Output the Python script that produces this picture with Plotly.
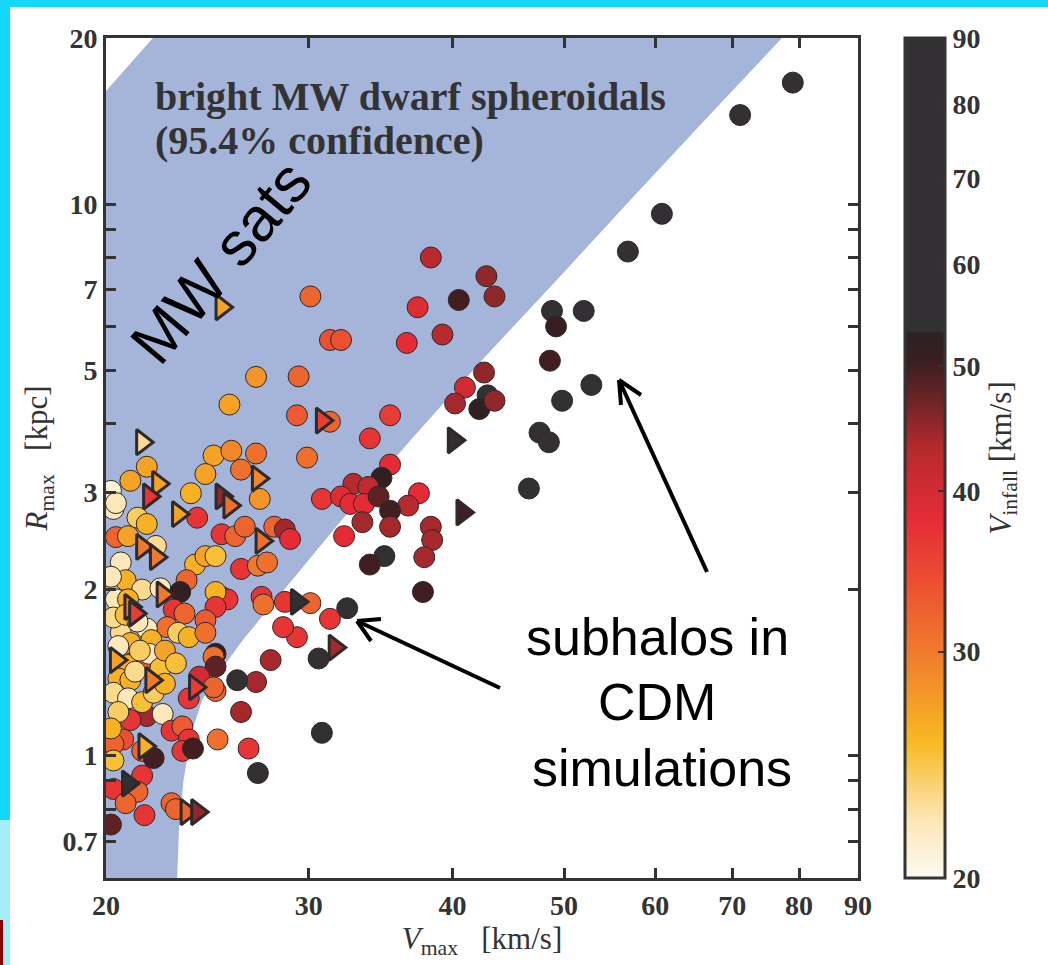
import numpy as np
import plotly.graph_objects as go

# ---------------- data ----------------
# subhalos drawn as circles: Vmax [km/s], Rmax [kpc], Vinfall [km/s]
circ_vmax = [79.0, 71.1, 60.8, 56.8, 52.8, 49.8, 48.8, 52.0, 49.2, 48.6, 47.6, 48.5, 46.6,
             38.3, 42.8, 40.5, 43.5, 37.3, 39.2, 36.5, 42.6, 41.0, 40.2, 42.9, 42.2, 43.5,
             37.4, 36.6, 38.3,
             29.3, 31.3, 35.3, 33.9, 29.9, 35.3, 34.7, 32.8, 33.8, 30.8, 32.0, 32.6, 33.5,
             34.5, 35.3, 33.4, 35.3, 32.2, 38.4, 37.8, 34.9, 33.9, 37.7, 30.1, 32.4, 31.3,
             29.3, 30.6, 28.5, 30.8,
             27.0, 26.0, 24.9, 23.6, 26.2, 21.7, 21.0, 22.4, 22.8, 23.3, 25.0, 26.6, 23.6,
             23.3, 23.8, 21.5, 22.0, 20.7, 20.3, 20.3, 27.1, 21.5, 21.3, 20.3, 20.8, 21.6,
             22.8, 23.0, 20.2,
             20.3, 21.3, 21.7, 24.0, 23.7, 20.4, 20.9, 22.1, 25.2, 25.9, 26.4, 28.0, 28.6,
             28.9, 20.6, 23.9, 24.4, 24.9, 26.2, 27.1, 27.6, 20.8, 20.2, 23.5, 21.5, 22.3,
             23.2, 20.4, 20.9, 22.9, 23.4, 25.2, 25.5, 24.9, 27.3, 27.4, 28.6, 24.9, 24.4,
             22.6, 23.1, 23.6, 24.4, 20.6, 21.0, 21.7, 21.9, 21.5, 21.8, 20.9, 24.9, 24.8,
             24.9, 27.8, 24.1, 24.8, 20.5, 21.0,
             30.1, 31.3, 32.0, 27.0, 29.4, 25.6, 24.8, 25.7, 27.0, 21.7, 21.0, 24.4, 26.2,
             27.2, 20.2, 20.4,
             20.3, 20.8, 21.3, 20.5, 21.4, 20.3, 20.9, 21.5, 22.0, 20.5, 21.2, 22.3, 22.5,
             20.2, 22.5, 23.0]
circ_rmax = [16.6, 14.5, 9.6, 8.2, 4.7, 4.4, 6.4, 6.4, 6.0, 5.2, 3.85, 3.7, 3.05,
             8.0, 7.4, 6.7, 6.8, 6.5, 5.8, 5.6, 4.95, 4.65, 4.35, 4.5, 4.25, 4.4,
             2.99, 2.84, 2.6,
             4.14, 4.03, 4.14, 3.76, 3.47, 3.37, 3.19, 3.11, 3.07, 2.92, 2.95, 2.86, 2.86,
             2.95, 2.78, 2.65, 2.6, 2.5, 2.46, 2.29, 2.30, 2.22, 1.98, 1.89, 1.85, 1.77,
             1.64, 1.50, 1.71, 1.10,
             1.36, 1.37, 1.31, 1.27, 1.20, 1.18, 1.16, 1.19, 1.11, 1.13, 1.07, 1.03, 1.07,
             1.02, 1.03, 1.02, 0.99, 1.07, 1.05, 0.98, 0.93, 0.92, 0.86, 0.87, 0.82, 0.78,
             0.82, 0.80, 0.75,
             2.8, 2.7, 2.63, 2.7, 2.99, 2.49, 2.50, 2.4, 2.52, 2.50, 2.60, 2.6, 2.57,
             2.47, 2.24, 2.22, 2.30, 2.30, 2.18, 2.21, 2.24, 2.08, 2.11, 2.08, 2.0, 2.01,
             1.98, 1.92, 1.92, 1.84, 1.81, 1.94, 1.92, 1.98, 1.94, 1.88, 1.90, 1.86, 1.76,
             1.71, 1.67, 1.64, 1.67, 1.67, 1.60, 1.70, 1.62, 1.49, 1.53, 1.46, 1.53, 1.51,
             1.45, 1.49, 1.39, 1.33, 1.38, 1.37,
             6.8, 5.67, 5.67, 4.86, 4.87, 4.33, 3.5, 3.57, 3.53, 3.34, 3.15, 3.24, 3.3,
             2.92, 3.02, 2.87,
             1.78, 1.80, 1.75, 1.58, 1.55, 1.30, 1.27, 1.25, 1.30, 1.20, 1.42, 1.44, 1.35,
             1.12, 1.55, 1.47]
circ_vinf = [80, 75, 70, 65, 60, 62, 60, 58, 51, 50, 60, 58, 60,
             43, 45, 50, 45, 39, 43, 38, 45, 40, 44, 60, 52, 45,
             38, 43, 44,
             33, 32, 36, 37, 31, 38, 52, 43, 42, 37, 39, 38, 38,
             48, 50, 44, 44, 38, 44, 44, 60, 50, 50, 32, 60, 37,
             37, 60, 37, 60,
             44, 55, 32, 37, 44, 44, 37, 22, 37, 33, 31, 37, 37,
             37, 50, 32, 50, 34, 32, 25, 60, 37, 32, 37, 32, 37,
             32, 32, 48,
             22, 24, 26, 37, 26, 32, 27, 23, 37, 32, 32, 32, 44,
             38, 22, 26, 27, 25, 37, 30, 31, 26, 22, 32, 23, 22,
             52, 22, 26, 37, 32, 37, 37, 26, 37, 31, 37, 37, 33,
             31, 24, 26, 31, 23, 26, 22, 26, 33, 22, 26, 52, 31,
             48, 44, 40, 32, 26, 26,
             32, 34, 34, 28, 32, 27, 27, 29, 31, 27, 27, 27, 31,
             28, 21, 22,
             23, 25, 22, 22, 24, 23, 22, 25, 24, 24, 23, 25, 26,
             26, 27, 25]

# subhalos drawn as triangles
tri_vmax = [25.2, 30.8, 21.5, 22.2, 27.1, 25.2, 25.6, 21.8, 23.1, 21.5, 22.1, 27.3, 22.4,
            21.0, 21.2, 20.4, 21.9, 23.9, 21.6, 20.9, 23.5, 24.0, 29.3, 31.6, 40.1, 40.8]
tri_rmax = [6.5, 4.05, 3.7, 3.11, 3.18, 2.95, 2.84, 2.95, 2.74, 2.39, 2.29, 2.45, 1.96,
            1.86, 1.81, 1.49, 1.37, 1.33, 1.04, 0.89, 0.79, 0.79, 1.9, 1.57, 3.73, 2.76]
tri_vinf = [27, 36, 23, 27, 29, 45, 31, 37, 27, 30, 30, 31, 30,
            30, 36, 27, 30, 36, 26, 60, 32, 45, 60, 44, 60, 50]

# 95.4% confidence band of bright MW dwarf spheroidals
band_left_vmax = [19.0, 22.1, 23.0]
band_left_rmax = [14.2, 20.3, 22.3]
band_right_vmax = [83.5, 77.6, 66.7, 57.4, 49.5, 42.6, 36.9, 32.1, 28.1, 26.3, 24.8, 24.24,
                   23.72, 23.35, 23.14, 23.06, 23.06]
band_right_rmax = [23.9, 20.17, 14.41, 10.30, 7.36, 5.26, 3.76, 2.685, 1.918, 1.621, 1.370,
                   1.26, 1.097, 0.900, 0.730, 0.599, 0.5]
band_bottom_vmax = [19.0]
band_bottom_rmax = [0.5]

x_ticks = [20, 30, 40, 50, 60, 70, 80, 90]
x_ticktext = ["20", "30", "40", "50", "60", "70", "80", "90"]
y_ticks = [0.7, 1, 2, 3, 5, 7, 10, 20]
y_ticktext = ["0.7", "1", "2", "3", "5", "7", "10", "20"]
y_minor_ticks = [0.8, 0.9, 4, 6, 8, 9]
cb_ticks = [20, 30, 40, 50, 60, 70, 80, 90]
cb_ticktext = ["20", "30", "40", "50", "60", "70", "80", "90"]

# ---------------- layout helpers ----------------
W, H = 1048, 965
ML, MR, MT, MB = 106, 190, 38, 87
PW, PH = W - ML - MR, H - MT - MB


def px(x):
    return (x - ML) / PW


def py(y):
    return (H - MB - y) / PH


vmin_c, vmax_c = np.log10(20), np.log10(90)


def f(v):
    return (np.log10(v) - vmin_c) / (vmax_c - vmin_c)


colorscale = [
    [0.0, "#fdfaf3"],
    [0.07, "#fce6b4"],
    [f(25.5), "#f8b923"],
    [f(30), "#f07a2c"],
    [f(34), "#ec4f31"],
    [f(38), "#e52c36"],
    [f(43), "#b82a2e"],
    [f(47), "#6e2426"],
    [f(50.5), "#3a1e20"],
    [f(53), "#2a2223"],
    [f(53.3), "#333034"],
    [1.0, "#333034"],
]

serif = "Liberation Serif"
sans = "Liberation Sans"
dark = "#333333"

fig = go.Figure()

band_x = band_left_vmax + band_right_vmax + band_bottom_vmax
band_y = band_left_rmax + band_right_rmax + band_bottom_rmax
fig.add_trace(go.Scatter(x=band_x, y=band_y, mode="lines", fill="toself",
                         fillcolor="#a5b5d9", line=dict(width=0), hoverinfo="skip",
                         showlegend=False))

fig.add_trace(go.Scatter(
    x=circ_vmax, y=circ_rmax, mode="markers", showlegend=False,
    marker=dict(symbol="circle", size=21, color=np.log10(circ_vinf), colorscale=colorscale,
                cmin=vmin_c, cmax=vmax_c,
                line=dict(color="#2e2828", width=1),
                showscale=True,
                colorbar=dict(
                    x=px(905), xanchor="left", xpad=0, ypad=0,
                    y=0.5, yanchor="middle", len=1.0, lenmode="fraction",
                    thickness=40, outlinewidth=3, outlinecolor=dark,
                    tickvals=np.log10(cb_ticks), ticktext=cb_ticktext,
                    ticks="inside", ticklen=8, tickwidth=2, tickcolor=dark,
                    tickfont=dict(family=serif, size=28, color=dark, weight="bold"),
                    title=dict(text="<i>V</i><sub>infall</sub> [km/s]", side="right",
                               font=dict(family=serif, size=31, color=dark)),
                ))))

fig.add_trace(go.Scatter(
    x=tri_vmax, y=tri_rmax, mode="markers", showlegend=False,
    marker=dict(symbol="triangle-right", size=22, color=np.log10(tri_vinf),
                colorscale=colorscale, cmin=vmin_c, cmax=vmax_c,
                line=dict(color="#2e2a2c", width=3), showscale=False)))

axis_common = dict(type="log", showgrid=False, zeroline=False, showline=True,
                   linewidth=3, linecolor=dark, mirror="ticks", ticks="inside",
                   ticklen=10, tickwidth=3, tickcolor=dark,
                   tickfont=dict(family=serif, size=28, color=dark, weight="bold"))

fig.update_layout(
    width=W, height=H,
    margin=dict(l=ML, r=MR, t=MT, b=MB, pad=0),
    paper_bgcolor="white", plot_bgcolor="white",
    xaxis=dict(range=[np.log10(20), np.log10(90)], tickvals=x_ticks, ticktext=x_ticktext,
               title=dict(text="<i>V</i><sub>max</sub>   [km/s]", standoff=6,
                          font=dict(family=serif, size=31, color=dark)),
               **axis_common),
    yaxis=dict(range=[np.log10(0.6), np.log10(20)], tickvals=y_ticks, ticktext=y_ticktext,
               minor=dict(tickvals=y_minor_ticks, ticks="inside", ticklen=10, tickwidth=3,
                          tickcolor=dark, showgrid=False),
               title=dict(text="<i>R</i><sub>max</sub>   [kpc]", standoff=6,
                          font=dict(family=serif, size=31, color=dark)),
               **axis_common),
)

# frame strips
shapes = [
    dict(type="rect", xref="paper", yref="paper", x0=px(-2), x1=px(W + 2), y0=py(7), y1=py(-2),
         fillcolor="#14d8fa", line=dict(width=0), layer="above"),
    dict(type="rect", xref="paper", yref="paper", x0=px(-2), x1=px(10), y0=py(820), y1=py(-2),
         fillcolor="#14d8fa", line=dict(width=0), layer="above"),
    dict(type="rect", xref="paper", yref="paper", x0=px(-2), x1=px(10), y0=py(H + 2), y1=py(820),
         fillcolor="#a6edfc", line=dict(width=0), layer="above"),
    dict(type="rect", xref="paper", yref="paper", x0=px(-2), x1=px(3), y0=py(H + 2), y1=py(920),
         fillcolor="#8b0000", line=dict(width=0), layer="above"),
]

# arrows (open heads)
arrows = [((500, 688), (357, 621), (371, 641), (381, 619)),
          ((707, 572), (619, 380), (641, 395), (621, 405))]
for tail, tip, w1, w2 in arrows:
    for a, b in [(tail, tip), (tip, w1), (tip, w2)]:
        shapes.append(dict(type="line", xref="paper", yref="paper",
                           x0=px(a[0]), y0=py(a[1]), x1=px(b[0]), y1=py(b[1]),
                           line=dict(color="black", width=4), layer="above"))
fig.update_layout(shapes=shapes)

ann = [
    dict(text="bright MW dwarf spheroidals", x=px(153), y=py(97), xanchor="left",
         yanchor="middle", font=dict(family=serif, size=40, color=dark, weight="bold")),
    dict(text="(95.4% confidence)", x=px(153), y=py(140), xanchor="left",
         yanchor="middle", font=dict(family=serif, size=40, color=dark, weight="bold")),
    dict(text="MW sats", x=px(220), y=py(262), xanchor="center", yanchor="middle",
         textangle=-50, font=dict(family=sans, size=62, color="black")),
    dict(text="subhalos in", x=px(657), y=py(637), xanchor="center", yanchor="middle",
         font=dict(family=sans, size=52, color="black")),
    dict(text="CDM", x=px(657), y=py(702), xanchor="center", yanchor="middle",
         font=dict(family=sans, size=52, color="black")),
    dict(text="simulations", x=px(662), y=py(768), xanchor="center", yanchor="middle",
         font=dict(family=sans, size=52, color="black")),
]
for a in ann:
    a.update(xref="paper", yref="paper", showarrow=False)
fig.update_layout(annotations=ann)

fig.write_html("out.html", config={"displayModeBar": False},
               post_script="document.body.style.margin='0px';document.body.style.padding='0px';")
